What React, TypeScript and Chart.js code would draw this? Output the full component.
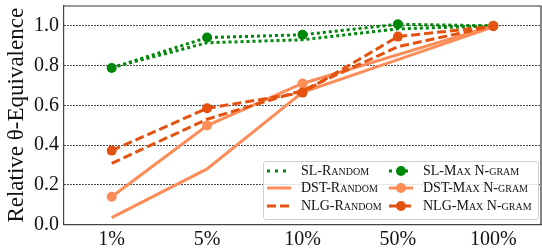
import React, { useEffect, useRef } from "react";
import { Chart, registerables } from "chart.js";

Chart.register(...registerables);

const categories = ["1%", "5%", "10%", "50%", "100%"];
const slRandom = [0.79, 0.915, 0.93, 0.985, 1.0];
const slMax = [0.788, 0.941, 0.955, 1.008, 1.0];
const dstRandom = [0.035, 0.28, 0.665, 0.83, 0.995];
const dstMax = [0.14, 0.498, 0.71, null, 1.0];
const nlgRandom = [0.308, 0.53, 0.675, 0.895, 1.0];
const nlgMax = [0.372, 0.585, 0.664, 0.946, 0.998];
const yTicks = [0, 0.2, 0.4, 0.6, 0.8, 1.0];

const GREEN = "#00880a";
const DST = "#fc8d59";
const NLG = "#e4520f";
const FONT = "'Liberation Serif', 'DejaVu Serif', serif";

const legendCol1 = [
  { label: "SL-Random", color: GREEN, dash: "3,5", marker: false },
  { label: "DST-Random", color: DST, dash: "", marker: false },
  { label: "NLG-Random", color: NLG, dash: "9,4", marker: false },
];
const legendCol2 = [
  { label: "SL-Max N-gram", color: GREEN, dash: "3,5", marker: true },
  { label: "DST-Max N-gram", color: DST, dash: "", marker: true },
  { label: "NLG-Max N-gram", color: NLG, dash: "9,4", marker: true },
];

const boxPlugin = {
  id: "boxPlugin",
  afterDraw(chart: any) {
    const { ctx, chartArea } = chart;
    ctx.save();
    ctx.strokeStyle = "#333";
    ctx.lineWidth = 1.2;
    ctx.beginPath();
    ctx.moveTo(chartArea.left, chartArea.top);
    ctx.lineTo(chartArea.right, chartArea.top);
    ctx.lineTo(chartArea.right, chartArea.bottom);
    ctx.stroke();
    ctx.restore();
  },
};

function LegendItem({ item, x, y }: any) {
  return (
    <div style={{ position: "absolute", left: x, top: y - 9, height: 18, display: "flex", alignItems: "center" }}>
      <svg width={24} height={18} style={{ display: "block" }}>
        <line x1={0} y1={9} x2={24} y2={9} stroke={item.color} strokeWidth={3} strokeDasharray={item.dash || undefined} />
        {item.marker ? <circle cx={12} cy={9} r={5} fill={item.color} /> : null}
      </svg>
      <span
        style={{
          marginLeft: 10,
          fontFamily: FONT,
          fontSize: 14,
          fontVariant: "small-caps",
          color: "#111",
          whiteSpace: "nowrap",
          lineHeight: "18px",
        }}
      >
        {item.label}
      </span>
    </div>
  );
}

export default function App() {
  const ref = useRef<HTMLCanvasElement>(null);
  useEffect(() => {
    if (!ref.current) return;
    const mk = (label: string, data: any[], color: string, dash: number[], marker: boolean, order: number) => ({
      label,
      data,
      borderColor: color,
      backgroundColor: color,
      borderWidth: 3,
      borderDash: dash,
      borderCapStyle: "butt",
      pointRadius: marker ? 5 : 0,
      pointHoverRadius: marker ? 5 : 0,
      pointBorderWidth: 0,
      pointBackgroundColor: color,
      tension: 0,
      spanGaps: true,
      fill: false,
      order,
    });
    const chart = new Chart(ref.current, {
      type: "line",
      data: {
        labels: categories,
        datasets: [
          mk("SL-Random", slRandom, GREEN, [3, 3], false, 5),
          mk("SL-Max N-gram", slMax, GREEN, [3, 3], true, 4),
          mk("DST-Random", dstRandom, DST, [], false, 3),
          mk("DST-Max N-gram", dstMax, DST, [], true, 2),
          mk("NLG-Random", nlgRandom, NLG, [9, 4], false, 1),
          mk("NLG-Max N-gram", nlgMax, NLG, [9, 4], true, 0),
        ] as any,
      },
      options: {
        responsive: false,
        animation: false,
        layout: { padding: { top: 6, right: 2, left: 0, bottom: 0 } },
        plugins: { legend: { display: false }, tooltip: { enabled: false } },
        scales: {
          x: {
            offset: true,
            grid: { display: false, drawTicks: false },
            border: { display: true, color: "#444", width: 1.2 },
            ticks: { font: { family: FONT, size: 20 }, color: "#111", padding: 3 },
            afterFit: (s: any) => {
              s.height = 25.5;
              s.paddingLeft = 0;
              s.paddingRight = 0;
            },
          },
          y: {
            min: 0,
            max: 1.1,
            grid: { color: "#111", lineWidth: 1, drawTicks: false },
            border: { display: true, color: "#444", width: 1.2, dash: [1.5, 1.5] },
            afterBuildTicks: (s: any) => {
              s.ticks = yTicks.map((v) => ({ value: v }));
            },
            ticks: {
              font: { family: FONT, size: 20 },
              color: "#111",
              padding: 5,
              callback: (v: any) => Number(v).toFixed(1),
            },
            title: {
              display: true,
              text: "Relative θ-Equivalence",
              font: { family: FONT, size: 23 },
              color: "#111",
              padding: { top: 3, bottom: 0 },
            },
            afterFit: (s: any) => {
              s.width = 64;
              s.paddingTop = 0;
              s.paddingBottom = 0;
            },
          },
        },
      },
      plugins: [boxPlugin],
    } as any);
    return () => chart.destroy();
  }, []);

  const rows = [170.7, 188.3, 205.7];
  return (
    <div style={{ position: "fixed", left: 0, top: 0, width: 542, height: 250, overflow: "hidden", background: "#fff" }}>
      <canvas ref={ref} width={546} height={250} style={{ display: "block" }} />
      <div
        style={{
          position: "absolute",
          left: 263,
          top: 161,
          width: 274,
          height: 57,
          background: "rgba(255,255,255,0.8)",
          border: "1px solid #d0d0d0",
          borderRadius: 3,
        }}
      />
      {legendCol1.map((it, i) => (
        <LegendItem key={it.label} item={it} x={267} y={rows[i]} />
      ))}
      {legendCol2.map((it, i) => (
        <LegendItem key={it.label} item={it} x={389} y={rows[i]} />
      ))}
    </div>
  );
}
